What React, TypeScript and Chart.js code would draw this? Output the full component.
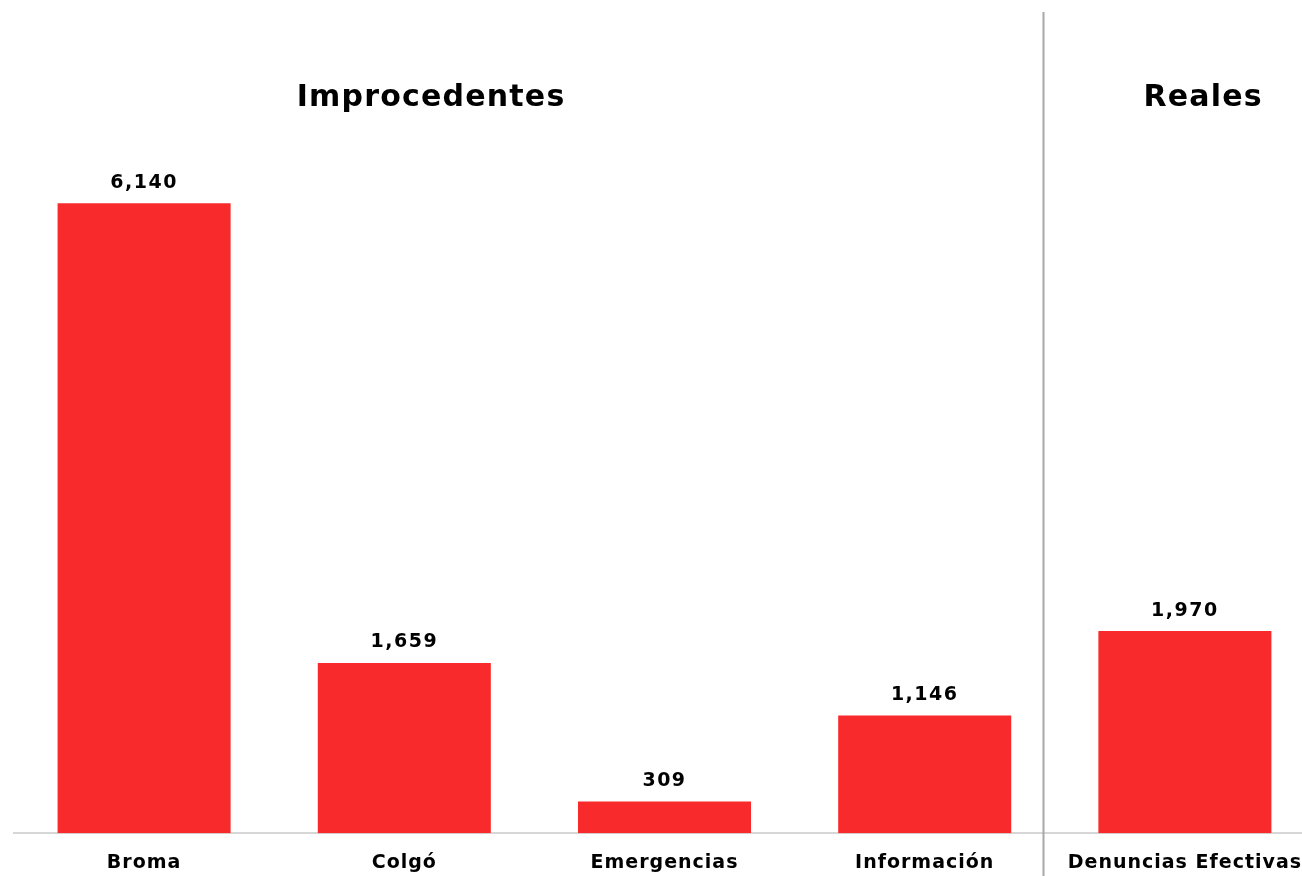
import React, { useEffect, useRef } from "react";
import { Chart, registerables } from "chart.js";

Chart.register(...registerables);

const categories = ["Broma", "Colgó", "Emergencias", "Información", "Denuncias Efectivas"];
const values = [6140, 1659, 309, 1146, 1970];
const groupTitles = ["Improcedentes", "Reales"];

const FONT = "'DejaVu Sans', Verdana, sans-serif";

const decorPlugin = {
  id: "decor",
  beforeDraw(chart: any) {
    chart.ctx.letterSpacing = "1px";
  },
  afterDatasetsDraw(chart: any) {
    const { ctx } = chart;
    const xs = chart.scales.x;
    const meta = chart.getDatasetMeta(0);
    ctx.save();
    ctx.letterSpacing = "1.5px";
    ctx.fillStyle = "#000";
    ctx.font = `bold 19px ${FONT}`;
    ctx.textAlign = "center";
    ctx.textBaseline = "bottom";
    meta.data.forEach((bar: any, i: number) => {
      const v = values[i].toLocaleString("en-US");
      ctx.fillText(v, bar.x, bar.y - 11);
    });
    // separator
    const step = xs.getPixelForValue(1) - xs.getPixelForValue(0);
    const sepX = Math.round(xs.getPixelForValue(3) + step * 0.455) + 0.5;
    ctx.strokeStyle = "#a8a8a8";
    ctx.lineWidth = 2;
    ctx.beginPath();
    ctx.moveTo(sepX, 12);
    ctx.lineTo(sepX, chart.height);
    ctx.stroke();
    // group titles
    ctx.letterSpacing = "1.2px";
    ctx.font = `bold 30px ${FONT}`;
    ctx.textBaseline = "middle";
    ctx.fillText(groupTitles[0], xs.getPixelForValue(0) + step * 1.103, 98);
    ctx.fillText(groupTitles[1], xs.getPixelForValue(4) + step * 0.07, 98);
    ctx.restore();
  },
};

export default function App() {
  const ref = useRef<HTMLCanvasElement>(null);
  useEffect(() => {
    if (!ref.current) return;
    const chart = new Chart(ref.current, {
      type: "bar",
      data: {
        labels: categories,
        datasets: [
          {
            data: values,
            backgroundColor: "#f92a2c",
            borderWidth: 0,
            barPercentage: 0.665,
            categoryPercentage: 1,
          },
        ],
      },
      options: {
        responsive: false,
        animation: false,
        devicePixelRatio: 1,
        layout: { padding: { left: 14, right: 15, top: 115, bottom: 4 } },
        plugins: { legend: { display: false }, tooltip: { enabled: false } },
        scales: {
          x: {
            grid: { display: false, drawTicks: false },
            border: { display: true, color: "#d6d6d6", width: 2 },
            ticks: {
              color: "#000",
              padding: 18,
              maxRotation: 0,
              autoSkip: false,
              font: { family: FONT, size: 19, weight: "bold" },
            },
          },
          y: {
            display: false,
            min: 0,
            max: 7000,
          },
        },
      },
      plugins: [decorPlugin],
    });
    return () => chart.destroy();
  }, []);
  return (
    <div style={{ position: "fixed", left: 0, top: 0, width: 1302, height: 876, overflow: "hidden", background: "#fff" }}>
      <canvas ref={ref} width={1330} height={896} style={{ display: "block" }} />
    </div>
  );
}
